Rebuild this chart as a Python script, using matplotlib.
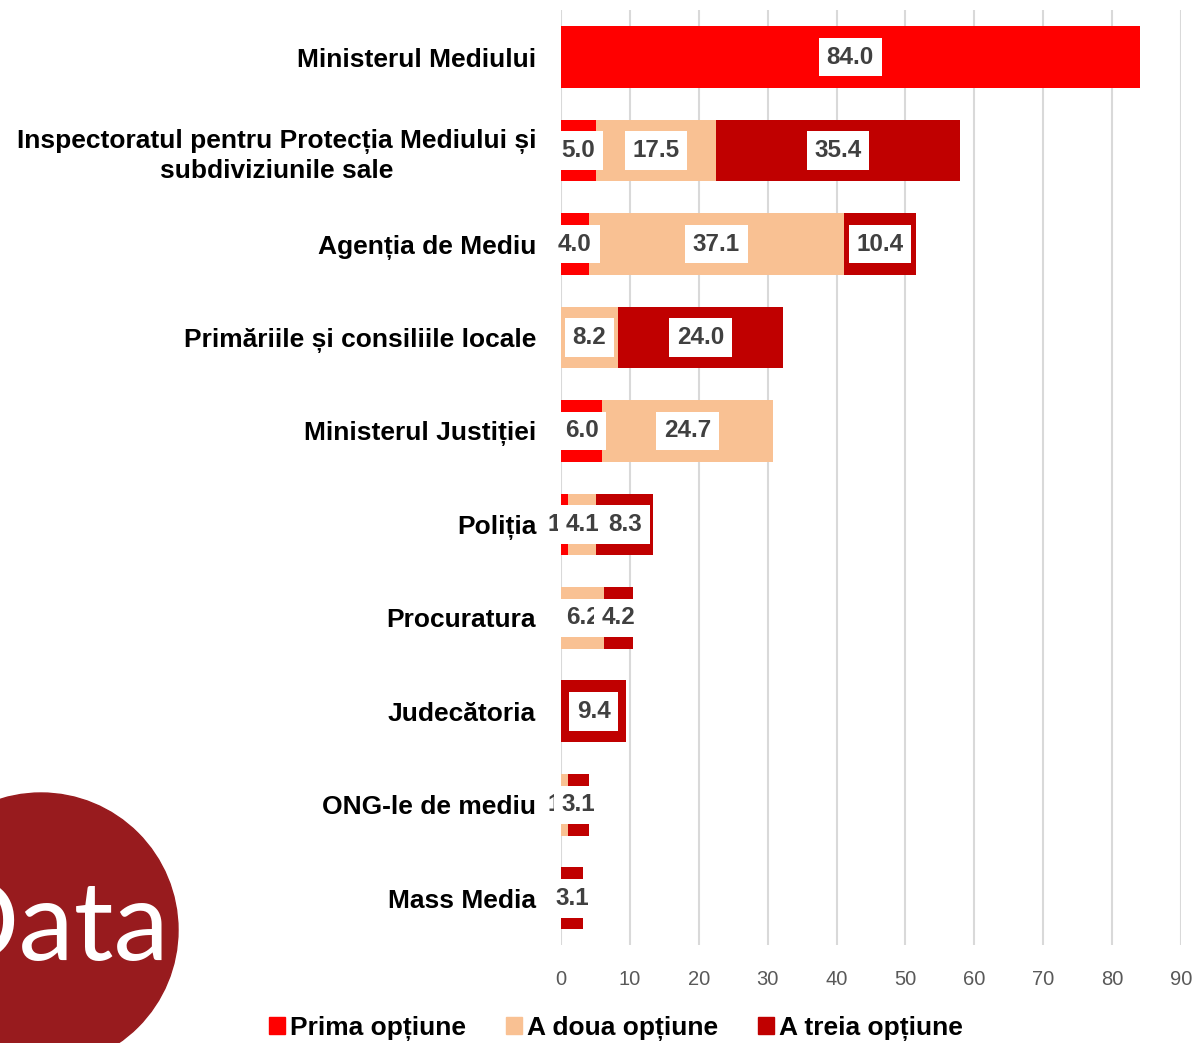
import matplotlib
matplotlib.use('Agg')
import matplotlib.pyplot as plt
from matplotlib.patches import Circle, Patch
import numpy as np

plt.rcParams['font.family'] = ['Liberation Sans', 'DejaVu Sans']

# date
categorii = [
    "Ministerul Mediului",
    "Inspectoratul pentru Protecția Mediului și\nsubdiviziunile sale",
    "Agenția de Mediu",
    "Primăriile și consiliile locale",
    "Ministerul Justiției",
    "Poliția",
    "Procuratura",
    "Judecătoria",
    "ONG-le de mediu",
    "Mass Media",
]
prima = [84.0, 5.0, 4.0, 0.0, 6.0, 1.0, 0.0, 0.0, 0.0, 0.0]
a_doua = [0.0, 17.5, 37.1, 8.2, 24.7, 4.1, 6.2, 0.0, 1.0, 0.0]
a_treia = [0.0, 35.4, 10.4, 24.0, 0.0, 8.3, 4.2, 9.4, 3.1, 3.1]
serii = ["Prima opțiune", "A doua opțiune", "A treia opțiune"]
culori = ["#FF0000", "#F9C193", "#C00000"]
x_ticks = [0, 10, 20, 30, 40, 50, 60, 70, 80, 90]

fig = plt.figure(figsize=(11.94, 10.43), dpi=100)
ax = fig.add_axes([0.470, 0.094, 0.519, 0.896])

y = np.arange(len(categorii))
left = np.zeros(len(categorii))
z = 3
for vals, col in zip([prima, a_doua, a_treia], culori):
    vals = np.array(vals)
    ax.barh(y, vals, left=left, height=0.66, color=col, zorder=2)
    left = left + vals

# etichete - in ordine, ca ultima sa acopere
left = np.zeros(len(categorii))
for vals in [prima, a_doua, a_treia]:
    for i, v in enumerate(vals):
        if v > 0:
            ax.text(left[i] + v / 2, i, f"{v:.1f}", ha="center", va="center",
                    fontsize=17.5, fontweight="bold", color="#404040", zorder=z,
                    bbox=dict(boxstyle="square,pad=0.32", fc="white", ec="none"))
            z += 1
    left = left + np.array(vals)

ax.set_xlim(0, 90)
ax.set_ylim(len(categorii) - 0.5, -0.5)
ax.set_xticks(x_ticks)
ax.set_yticks(y)
ax.set_yticklabels(categorii, fontsize=19, fontweight="bold", color="black",
                   multialignment="center", linespacing=1.3)
ax.tick_params(axis="y", length=0, pad=18)
ax.tick_params(axis="x", length=0, labelsize=14.5, labelcolor="#595959", pad=18)
ax.grid(axis="x", color="#D9D9D9", linewidth=1.5, zorder=0)
ax.set_axisbelow(True)
for s in ax.spines.values():
    s.set_visible(False)

# legenda
handles = [Patch(color=c, label=l) for c, l in zip(culori, serii)]
leg = fig.legend(handles=handles, loc="center", bbox_to_anchor=(0.516, 0.014), ncol=3,
                 frameon=False, handlelength=0.6, handleheight=0.6, handletextpad=0.2,
                 columnspacing=1.5,
                 prop={"family": ["Liberation Sans Narrow", "Liberation Sans"],
                       "weight": "bold", "size": 19})

# logo
cerc = Circle((0.41, 1.13), 1.37, transform=fig.dpi_scale_trans, color="#981B1E", zorder=1)
fig.add_artist(cerc)
t = fig.text(1.70, 0.83, "Data", transform=fig.dpi_scale_trans, ha="right", va="baseline",
             color="white", fontsize=80, family=["Lato", "DejaVu Sans"], zorder=2)
t.set_clip_path(cerc)

fig.savefig("out.png", dpi=100)
